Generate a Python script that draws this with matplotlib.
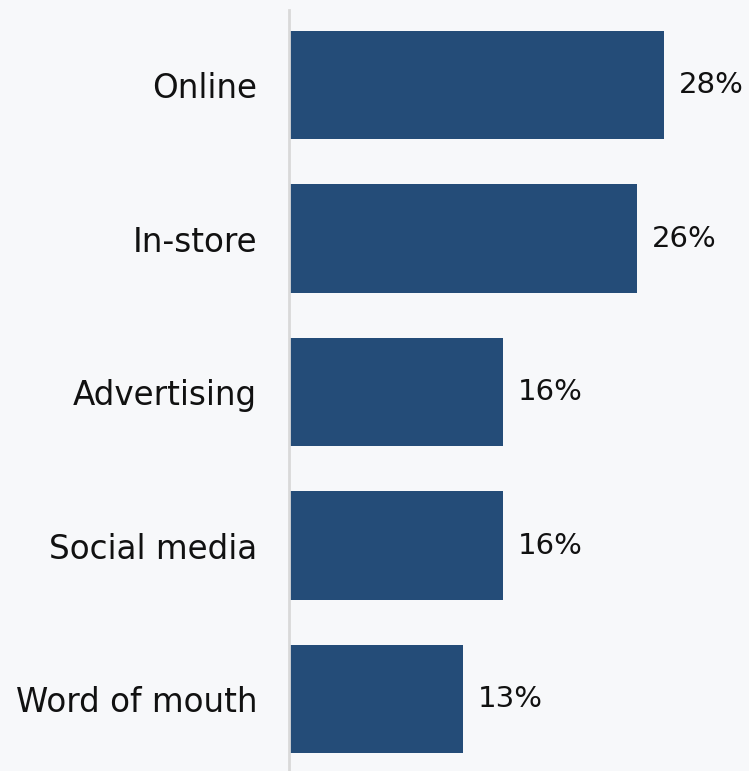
import matplotlib.pyplot as plt

channels = ["Online", "In-store", "Advertising", "Social media", "Word of mouth"]
shares = [28, 26, 16, 16, 13]

bg = "#f7f8fa"
bar_color = "#244c78"
text_color = "#111111"

fig = plt.figure(figsize=(7.49, 7.71), dpi=100, facecolor=bg)
ax = fig.add_axes([289 / 749, 0, 1 - 289 / 749, 1], facecolor=bg)

pos = list(range(len(channels)))
ax.barh(pos, shares, height=0.705, color=bar_color)

# percentage labels just past the end of each bar
for y, v in zip(pos, shares):
    ax.annotate(f"{v}%", xy=(v, y), xytext=(10.5, 0), textcoords="offset points",
                va="center", ha="left", fontsize=21, color=text_color)

ax.set_xlim(0, 34.35)
ax.set_ylim(4.469, -0.554)
ax.set_yticks(pos)
ax.set_yticklabels(channels, fontsize=23.5, color=text_color)
ax.tick_params(axis="y", length=0, pad=23)
ax.set_xticks([])

for side in ["top", "right", "bottom"]:
    ax.spines[side].set_visible(False)
ax.spines["left"].set_color("#d9d9d9")
ax.spines["left"].set_linewidth(2)
ax.spines["left"].set_bounds(-0.489, 4.469)

fig.savefig("out.png", dpi=100, facecolor=bg)
